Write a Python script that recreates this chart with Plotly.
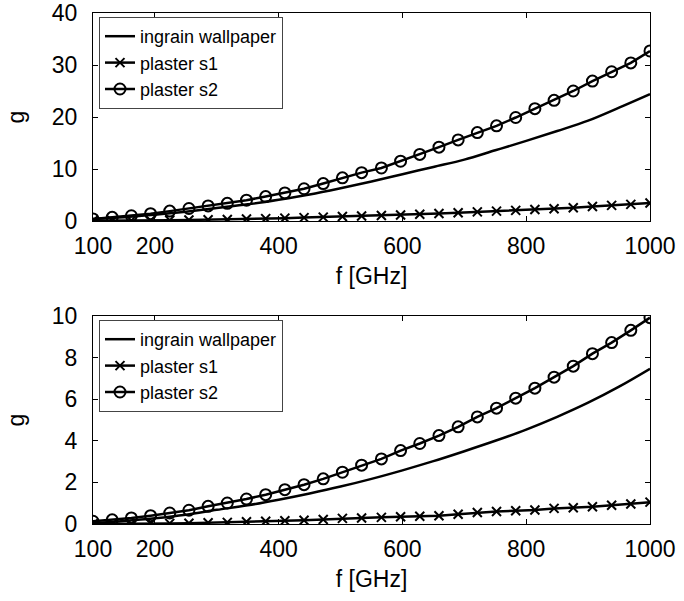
import plotly.graph_objects as go

# Frequency grid of the marked series (GHz)
freq_marked = [100, 131, 162, 193, 224, 255, 286, 317, 348, 379, 410, 441, 472, 503, 534,
               566, 597, 628, 659, 690, 721, 752, 783, 814, 845, 876, 907, 938, 969, 1000]
# Frequency grid of the smooth series (GHz)
freq_smooth = [100, 150, 200, 250, 300, 350, 400, 450, 500, 550, 600, 650, 700, 750, 800,
               850, 900, 950, 1000]

# Upper panel
top_wallpaper = [0.4, 0.7, 1.2, 1.8, 2.5, 3.2, 4.1, 5.1, 6.3, 7.6, 9.0, 10.4, 11.8, 13.6,
                 15.4, 17.3, 19.3, 21.8, 24.4]
top_s1 = [0.05, 0.05, 0.08, 0.1, 0.15, 0.2, 0.25, 0.3, 0.4, 0.45, 0.55, 0.65, 0.75, 0.85,
          0.95, 1.05, 1.15, 1.3, 1.45, 1.6, 1.75, 1.9, 2.05, 2.2, 2.35, 2.55, 2.8, 3.0,
          3.2, 3.45]
top_s2 = [0.4, 0.7, 1.0, 1.4, 1.9, 2.4, 2.9, 3.4, 4.0, 4.7, 5.4, 6.2, 7.2, 8.3, 9.3, 10.2,
          11.5, 12.8, 14.2, 15.6, 17.0, 18.3, 19.9, 21.6, 23.2, 25.0, 26.9, 28.7, 30.4, 32.7]

# Lower panel
bot_wallpaper = [0.05, 0.15, 0.28, 0.45, 0.68, 0.9, 1.17, 1.47, 1.8, 2.17, 2.58, 3.02, 3.5,
                 4.0, 4.54, 5.15, 5.83, 6.6, 7.46]
bot_s1 = [0.0, 0.0, 0.01, 0.02, 0.03, 0.04, 0.06, 0.08, 0.11, 0.13, 0.16, 0.18, 0.22, 0.27,
          0.29, 0.32, 0.35, 0.37, 0.4, 0.47, 0.55, 0.6, 0.64, 0.67, 0.75, 0.78, 0.83, 0.9,
          0.96, 1.05]
bot_s2 = [0.13, 0.2, 0.29, 0.4, 0.53, 0.66, 0.85, 1.01, 1.2, 1.41, 1.65, 1.89, 2.17, 2.49,
          2.83, 3.13, 3.53, 3.87, 4.25, 4.67, 5.15, 5.57, 6.05, 6.53, 7.06, 7.59, 8.19, 8.72,
          9.31, 9.92]

x_ticks = [100, 200, 400, 600, 800, 1000]
top_yticks = [0, 10, 20, 30, 40]
bot_yticks = [0, 2, 4, 6, 8, 10]

FONT = "Liberation Sans, Arial, sans-serif"
INK = "black"

fig = go.Figure()


def add_panel(xref, yref, legend, wall, s1, s2):
    fig.add_trace(go.Scatter(
        x=freq_smooth, y=wall, name="ingrain wallpaper", mode="lines",
        line=dict(color=INK, width=2.5, shape="spline"),
        xaxis=xref, yaxis=yref, legend=legend))
    fig.add_trace(go.Scatter(
        x=freq_marked, y=s1, name="plaster s1", mode="lines+markers",
        line=dict(color=INK, width=2.5),
        marker=dict(symbol="x-thin-open", size=9, color=INK, line=dict(color=INK, width=2)),
        xaxis=xref, yaxis=yref, legend=legend))
    fig.add_trace(go.Scatter(
        x=freq_marked, y=s2, name="plaster s2", mode="lines+markers",
        line=dict(color=INK, width=2.5),
        marker=dict(symbol="circle-open", size=11, color=INK, line=dict(color=INK, width=2)),
        xaxis=xref, yaxis=yref, legend=legend))


add_panel("x", "y", "legend", top_wallpaper, top_s1, top_s2)
add_panel("x2", "y2", "legend2", bot_wallpaper, bot_s1, bot_s2)

W, H = 684, 601
x0, x1 = 93, 650
top_y0, top_y1 = 13, 221
bot_y0, bot_y1 = 316, 524


def xaxis_style(anchor):
    return dict(
        domain=[x0 / W, x1 / W], anchor=anchor, range=[100, 1000],
        tickvals=x_ticks, ticks="inside", ticklen=5, tickcolor=INK,
        showline=True, linecolor=INK, linewidth=1, mirror="ticks",
        showgrid=False, zeroline=False, automargin=False, ticklabelstandoff=4,
        tickfont=dict(family=FONT, size=23, color=INK),
        title=dict(text="f [GHz]", font=dict(family=FONT, size=23, color=INK), standoff=10),
    )


def yaxis_style(anchor, y_top, y_bot, rng, ticks):
    return dict(
        domain=[(H - y_bot) / H, (H - y_top) / H], anchor=anchor, range=rng,
        tickvals=ticks, ticks="inside", ticklen=5, tickcolor=INK,
        showline=True, linecolor=INK, linewidth=1, mirror="ticks",
        showgrid=False, zeroline=False, automargin=False, ticklabelstandoff=10,
        tickfont=dict(family=FONT, size=23, color=INK),
        title=dict(text="g", font=dict(family=FONT, size=23, color=INK), standoff=20),
    )


def legend_style(y_top):
    return dict(
        x=(x0 + 6) / W, y=(H - y_top - 4) / H, xanchor="left", yanchor="top",
        bgcolor="white", bordercolor="#444", borderwidth=1,
        font=dict(family=FONT, size=18, color=INK),
        tracegroupgap=0, itemwidth=30,
    )


fig.update_layout(
    width=W, height=H,
    margin=dict(l=0, r=0, t=0, b=0),
    paper_bgcolor="white", plot_bgcolor="white",
    showlegend=True,
    xaxis=xaxis_style("y"),
    yaxis=yaxis_style("x", top_y0, top_y1, [0, 40], top_yticks),
    xaxis2=xaxis_style("y2"),
    yaxis2=yaxis_style("x2", bot_y0, bot_y1, [0, 10], bot_yticks),
    legend=legend_style(top_y0),
    legend2=legend_style(bot_y0),
)

fig.write_html("out.html")
